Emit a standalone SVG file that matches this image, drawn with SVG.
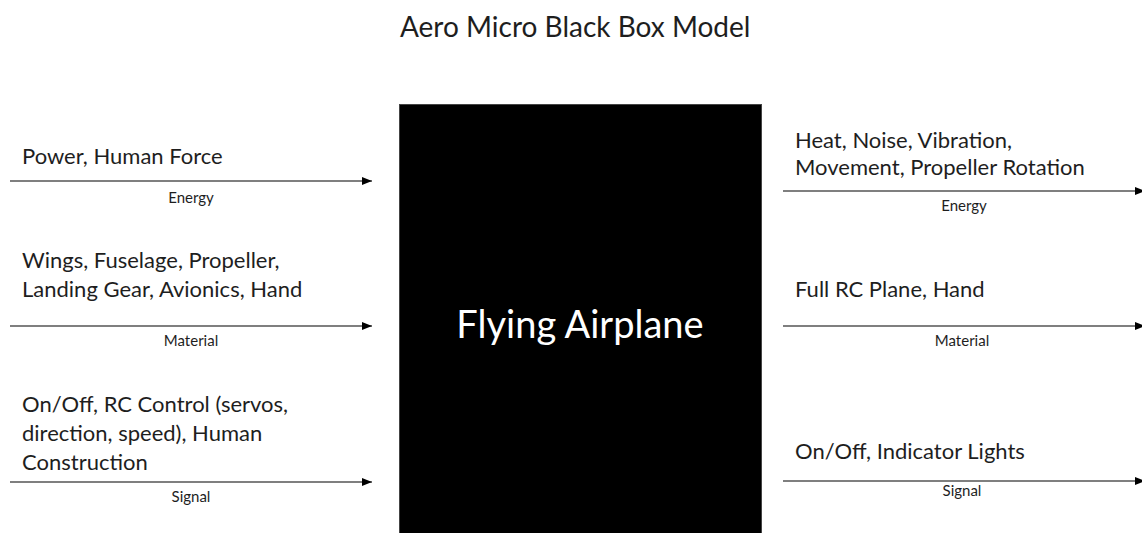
<svg xmlns="http://www.w3.org/2000/svg" width="1142" height="533" viewBox="0 0 1142 533">
  <defs>
    <marker id="ah" viewBox="0 0 10 8" refX="10" refY="4" markerWidth="10" markerHeight="8" markerUnits="userSpaceOnUse" orient="auto">
      <path d="M0,0 L10,4 L0,8 Z" fill="#000"/>
    </marker>
  </defs>
  <style>
    text { font-family: Lato, "Liberation Sans", sans-serif; fill: #1e1e1e; }
    .title { font-size: 28px; }
    .lbl { font-size: 22px; }
    .sm { font-size: 15px; text-anchor: middle; }
    .big { font-size: 38px; fill: #fff; text-anchor: middle; }
    .arr { stroke: #000; stroke-width: 1.2; fill: none; marker-end: url(#ah); }
  </style>
  <rect width="1142" height="533" fill="#fff"/>
  <text class="title" x="400" y="37">Aero Micro Black Box Model</text>

  <g id="box">
    <rect x="399.5" y="104.5" width="362" height="440" fill="#000" stroke="#444" stroke-width="1"/>
    <text class="big" x="580" y="338">Flying Airplane</text>
  </g>

  <g id="connectors">
    <line class="arr" x1="10" y1="181" x2="372" y2="181"/>
    <line class="arr" x1="10" y1="326" x2="372" y2="326"/>
    <line class="arr" x1="10" y1="482" x2="372" y2="482"/>
    <line class="arr" x1="783" y1="191" x2="1145" y2="191"/>
    <line class="arr" x1="783" y1="326" x2="1145" y2="326"/>
    <line class="arr" x1="783" y1="481" x2="1145" y2="481"/>
  </g>

  <g id="in-energy">
    <text class="lbl" x="22" y="164">Power, Human Force</text>
    <text class="sm" x="191" y="203">Energy</text>
  </g>
  <g id="in-material">
    <text class="lbl" x="22" y="268">Wings, Fuselage, Propeller,</text>
    <text class="lbl" x="22" y="297">Landing Gear, Avionics, Hand</text>
    <text class="sm" x="191" y="346">Material</text>
  </g>
  <g id="in-signal">
    <text class="lbl" x="22" y="412">On/Off, RC Control (servos,</text>
    <text class="lbl" x="22" y="441">direction, speed), Human</text>
    <text class="lbl" x="22" y="470">Construction</text>
    <text class="sm" x="191" y="502">Signal</text>
  </g>
  <g id="out-energy">
    <text class="lbl" x="795" y="148">Heat, Noise, Vibration,</text>
    <text class="lbl" x="795" y="175">Movement, Propeller Rotation</text>
    <text class="sm" x="964" y="211">Energy</text>
  </g>
  <g id="out-material">
    <text class="lbl" x="795" y="297">Full RC Plane, Hand</text>
    <text class="sm" x="962" y="346">Material</text>
  </g>
  <g id="out-signal">
    <text class="lbl" x="795" y="459">On/Off, Indicator Lights</text>
    <text class="sm" x="962" y="496">Signal</text>
  </g>
</svg>
